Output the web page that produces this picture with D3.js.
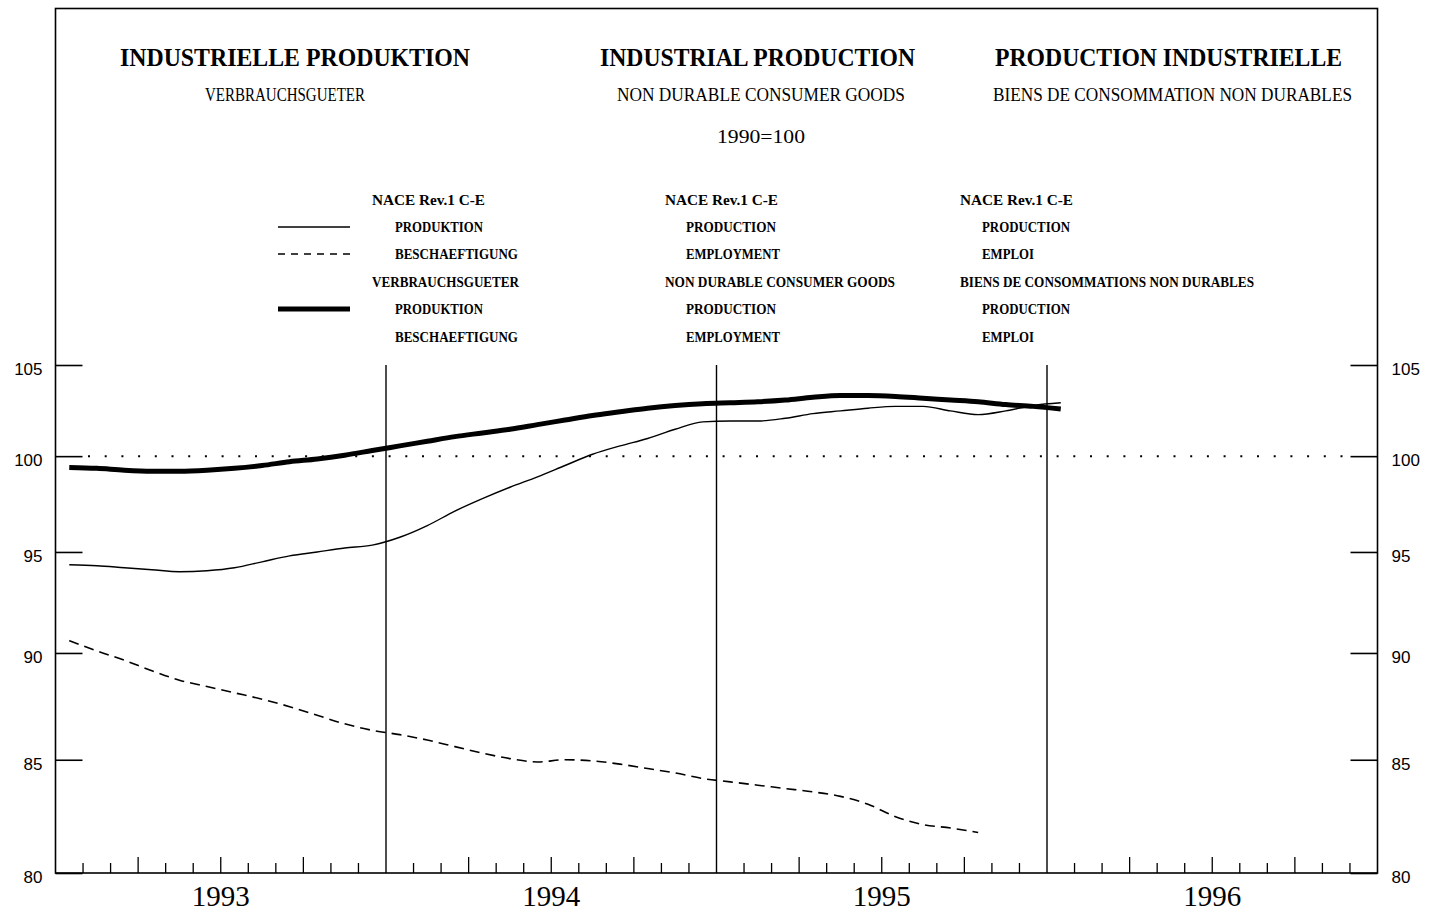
<!DOCTYPE html>
<html>
<head>
<meta charset="utf-8">
<script src="https://cdn.jsdelivr.net/npm/d3@7"></script>
<style>
  body { margin: 0; background: #fff; }
  text { fill: #000; }
</style>
</head>
<body>
<svg id="chart"></svg>
<script>
const width = 1438;
const height = 913;

// ---- data (monthly, starting January 1993) ----
const years = ["1993", "1994", "1995", "1996"];
const yTicks = [80, 85, 90, 95, 100, 105];

// NACE Rev.1 C-E production (thin solid)
const naceProduction = [
  94.35, 94.3, 94.2, 94.1, 94.0, 94.05, 94.2, 94.5, 94.8, 95.0, 95.2, 95.35,
  95.75, 96.35, 97.1, 97.75, 98.35, 98.9, 99.5, 100.1, 100.55, 100.95, 101.45, 101.85,
  101.9, 101.9, 102.05, 102.3, 102.45, 102.6, 102.7, 102.7, 102.45, 102.25, 102.45, 102.75,
  102.9
];
// NACE Rev.1 C-E employment (dashed)
const naceEmployment = [
  90.6, 90.1, 89.65, 89.15, 88.7, 88.4, 88.1, 87.8, 87.45, 87.05, 86.65, 86.35,
  86.15, 85.9, 85.6, 85.3, 85.05, 84.9, 85.0, 84.95, 84.8, 84.6, 84.4, 84.15,
  84.0, 83.85, 83.7, 83.55, 83.35, 83.0, 82.45, 82.1, 81.95, 81.75
];
// non durable consumer goods production (thick)
const consumerProduction = [
  99.4, 99.35, 99.25, 99.2, 99.2, 99.25, 99.35, 99.5, 99.7, 99.85, 100.05, 100.3,
  100.55, 100.8, 101.05, 101.25, 101.45, 101.7, 101.95, 102.2, 102.4, 102.6, 102.75, 102.85,
  102.9, 102.95, 103.05, 103.2, 103.3, 103.3, 103.25, 103.15, 103.05, 102.95, 102.8, 102.7,
  102.55
];

const titles = ["INDUSTRIELLE PRODUKTION", "INDUSTRIAL PRODUCTION", "PRODUCTION INDUSTRIELLE"];
const subtitles = ["VERBRAUCHSGUETER", "NON DURABLE CONSUMER GOODS", "BIENS DE CONSOMMATION NON DURABLES"];
const baseLabel = "1990=100";

const legendDe = ["NACE Rev.1 C-E", "PRODUKTION", "BESCHAEFTIGUNG", "VERBRAUCHSGUETER", "PRODUKTION", "BESCHAEFTIGUNG"];
const legendEn = ["NACE Rev.1 C-E", "PRODUCTION", "EMPLOYMENT", "NON DURABLE CONSUMER GOODS", "PRODUCTION", "EMPLOYMENT"];
const legendFr = ["NACE Rev.1 C-E", "PRODUCTION", "EMPLOI", "BIENS DE CONSOMMATIONS NON DURABLES", "PRODUCTION", "EMPLOI"];

// ---- layout ----
const plot = {left: 55.5, right: 1377.5, top: 8.5, bottom: 873};
const serif = "'Liberation Serif', 'DejaVu Serif', serif";
const sans = "'Liberation Sans', Arial, sans-serif";

const x = d3.scaleLinear([0, years.length * 12], [plot.left, plot.right]);
const y = d3.scaleLog([80, 105], [plot.bottom, 365]);

const svg = d3.select("#chart")
    .attr("width", width)
    .attr("height", height)
    .attr("viewBox", [0, 0, width, height]);

// frame
svg.append("rect")
    .attr("x", plot.left).attr("y", plot.top)
    .attr("width", plot.right - plot.left)
    .attr("height", plot.bottom - plot.top)
    .attr("fill", "none")
    .attr("stroke", "#000")
    .attr("stroke-width", 1.6);

// ---- headings ----
const titleBox = [[120, 350], [600, 315], [995, 347]];
const subBox = [[205, 160], [617, 288], [993, 359]];

svg.append("g").selectAll("text")
  .data(titles)
  .join("text")
    .attr("x", (d, i) => titleBox[i][0])
    .attr("y", 66)
    .attr("textLength", (d, i) => titleBox[i][1])
    .attr("lengthAdjust", "spacingAndGlyphs")
    .attr("font-family", serif)
    .attr("font-weight", "bold")
    .attr("font-size", "26px")
    .text(d => d);

svg.append("g").selectAll("text")
  .data(subtitles)
  .join("text")
    .attr("x", (d, i) => subBox[i][0])
    .attr("y", 101)
    .attr("textLength", (d, i) => subBox[i][1])
    .attr("lengthAdjust", "spacingAndGlyphs")
    .attr("font-family", serif)
    .attr("font-size", "18px")
    .text(d => d);

svg.append("text")
    .attr("x", 717).attr("y", 143)
    .attr("textLength", 88)
    .attr("lengthAdjust", "spacingAndGlyphs")
    .attr("font-family", serif)
    .attr("font-size", "18px")
    .text(baseLabel);

// ---- legend ----
const legendRowY = [205, 232, 259, 287, 314, 342];
const indented = [false, true, true, false, true, true];
const legendCols = [
  {items: legendDe, x0: 372, x1: 395, w: [113, 88, 123, 147, 88, 123]},
  {items: legendEn, x0: 665, x1: 686, w: [113, 90, 94, 230, 90, 94]},
  {items: legendFr, x0: 960, x1: 982, w: [113, 88, 52, 294, 88, 52]}
];

legendCols.forEach(col => {
  svg.append("g").selectAll("text")
    .data(col.items)
    .join("text")
      .attr("x", (d, i) => indented[i] ? col.x1 : col.x0)
      .attr("y", (d, i) => legendRowY[i])
      .attr("textLength", (d, i) => col.w[i])
      .attr("lengthAdjust", "spacingAndGlyphs")
      .attr("font-family", serif)
      .attr("font-weight", "bold")
      .attr("font-size", "14px")
      .text(d => d);
});

const legendLines = [
  {row: 1, width: 1.3, dash: null},
  {row: 2, width: 1.3, dash: "7,6"},
  {row: 4, width: 5, dash: null}
];
svg.append("g").selectAll("line")
  .data(legendLines)
  .join("line")
    .attr("x1", 278).attr("x2", 350)
    .attr("y1", d => legendRowY[d.row] - 5)
    .attr("y2", d => legendRowY[d.row] - 5)
    .attr("stroke", "#000")
    .attr("stroke-width", d => d.width)
    .attr("stroke-dasharray", d => d.dash);

// ---- axes ----
const leftAxis = svg.append("g")
    .attr("transform", `translate(${plot.left},0)`)
    .call(d3.axisLeft(y).tickValues(yTicks).tickFormat(d3.format("d")).tickSize(-27).tickSizeOuter(0).tickPadding(13));
const rightAxis = svg.append("g")
    .attr("transform", `translate(${plot.right},0)`)
    .call(d3.axisRight(y).tickValues(yTicks).tickFormat(d3.format("d")).tickSize(-27).tickSizeOuter(0).tickPadding(14));

[leftAxis, rightAxis].forEach(a => {
  a.select(".domain").remove();
  a.selectAll("line").attr("stroke", "#000").attr("stroke-width", 1.6);
  a.selectAll("text")
      .attr("font-family", sans)
      .attr("font-size", "17px")
      .attr("fill", "#000")
      .attr("dy", "0.62em")
      .attr("y", -1);
});

// month ticks along the bottom
const monthTicks = d3.range(1, years.length * 12).filter(m => m % 12 !== 0);
svg.append("g").selectAll("line")
  .data(monthTicks)
  .join("line")
    .attr("x1", d => x(d)).attr("x2", d => x(d))
    .attr("y1", plot.bottom)
    .attr("y2", d => plot.bottom - (d % 3 === 0 ? 16 : 10))
    .attr("stroke", "#000")
    .attr("stroke-width", 1.3);

// year separators
svg.append("g").selectAll("line")
  .data(d3.range(1, years.length))
  .join("line")
    .attr("x1", d => x(d * 12)).attr("x2", d => x(d * 12))
    .attr("y1", y(105)).attr("y2", plot.bottom)
    .attr("stroke", "#000")
    .attr("stroke-width", 1.4);

// year labels
svg.append("g").selectAll("text")
  .data(years)
  .join("text")
    .attr("x", (d, i) => x(i * 12 + 6))
    .attr("y", 906)
    .attr("text-anchor", "middle")
    .attr("font-family", serif)
    .attr("font-size", "29px")
    .text(d => d);

// reference line at 100
svg.append("line")
    .attr("x1", 88).attr("x2", 1350)
    .attr("y1", y(100)).attr("y2", y(100))
    .attr("stroke", "#000")
    .attr("stroke-width", 2)
    .attr("stroke-dasharray", "2,14.7");

// ---- series ----
const line = d3.line()
    .x((d, i) => x(i + 0.5))
    .y(d => y(d))
    .curve(d3.curveMonotoneX);

svg.append("path")
    .datum(naceProduction)
    .attr("fill", "none")
    .attr("stroke", "#000")
    .attr("stroke-width", 1.4)
    .attr("d", line);

svg.append("path")
    .datum(naceEmployment)
    .attr("fill", "none")
    .attr("stroke", "#000")
    .attr("stroke-width", 1.6)
    .attr("stroke-dasharray", "10,6")
    .attr("d", line);

svg.append("path")
    .datum(consumerProduction)
    .attr("fill", "none")
    .attr("stroke", "#000")
    .attr("stroke-width", 5)
    .attr("d", line);
</script>
</body>
</html>
